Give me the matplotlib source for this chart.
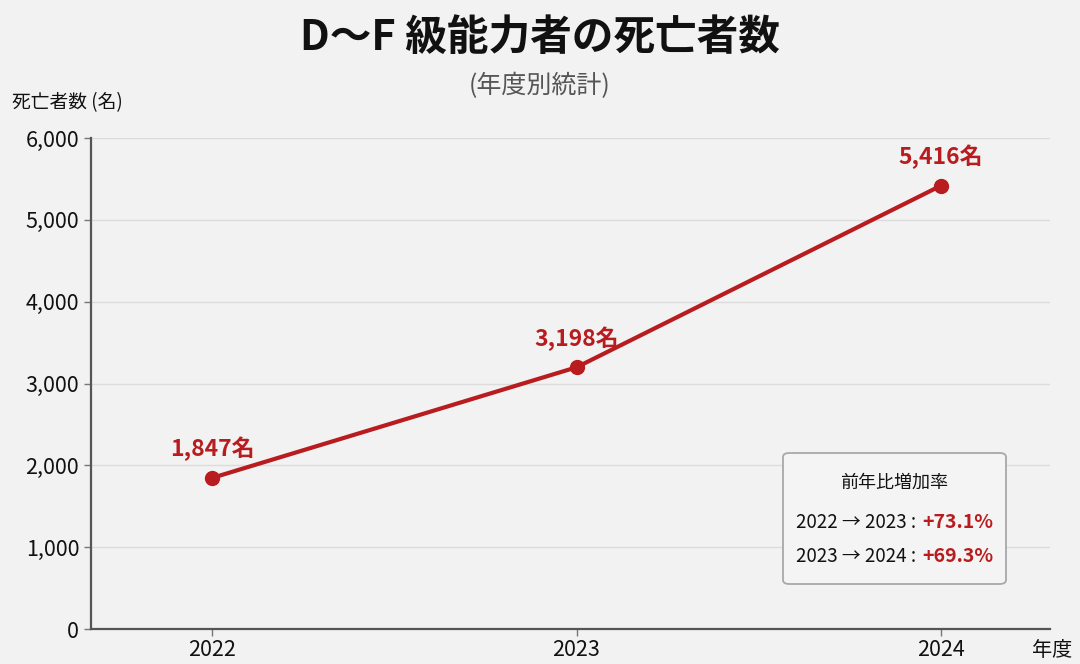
import matplotlib
matplotlib.use("Agg")
import matplotlib.pyplot as plt
from matplotlib.patches import FancyBboxPatch
from matplotlib.ticker import FuncFormatter

# data
years = [2022, 2023, 2024]
deaths = [1847, 3198, 5416]
point_labels = ["1,847名", "3,198名", "5,416名"]
growth_pairs = ["2022 → 2023 :", "2023 → 2024 :"]
growth_rates = ["+73.1%", "+69.3%"]

RED = "#b81c1f"
BG = "#f2f2f2"

plt.rcParams['font.family'] = ['Noto Sans CJK JP', 'DejaVu Sans']

fig = plt.figure(figsize=(10.8, 6.64), dpi=100)
fig.patch.set_facecolor(BG)
ax = fig.add_axes([91 / 1080, 35 / 664, (1050 - 91) / 1080, (629 - 138) / 664])
ax.set_facecolor(BG)

ax.plot(years, deaths, color=RED, lw=3, marker="o", ms=10, zorder=3)
for x, y, lab in zip(years, deaths, point_labels):
    ax.annotate(lab, (x, y), xytext=(0, 12), textcoords="offset points",
                ha="center", va="bottom", color=RED, fontsize=16.5, fontweight="bold")

ax.set_xlim(2021.667, 2024.30)
ax.set_ylim(0, 6000)
ax.set_xticks(years)
ax.set_yticks(range(0, 6001, 1000))
ax.yaxis.set_major_formatter(FuncFormatter(lambda v, p: f"{int(v):,}"))
ax.grid(axis="y", color="#dcdcdc", lw=1)
ax.set_axisbelow(True)
for s in ["top", "right"]:
    ax.spines[s].set_visible(False)
for s in ["left", "bottom"]:
    ax.spines[s].set_color("#555555")
    ax.spines[s].set_linewidth(1.6)
ax.tick_params(axis="both", labelsize=15.5, colors="#777777", labelcolor="#111111",
               length=5, width=1)
ax.tick_params(axis="x", pad=2)

# titles
fig.text(0.5, 1 - 38 / 664, "D〜F 級能力者の死亡者数", ha="center", va="center",
         fontsize=30, fontweight="bold", color="#111111")
fig.text(0.5, 1 - 86 / 664, "(年度別統計)", ha="center", va="center",
         fontsize=18, color="#555555")
fig.text(12 / 1080, 1 - 103 / 664, "死亡者数 (名)", ha="left", va="center",
         fontsize=13.5, color="#111111")
fig.text(1072 / 1080, 1 - 650 / 664, "年度", ha="right", va="center",
         fontsize=14.5, color="#111111")

# growth box
box = FancyBboxPatch((783 / 1080, 1 - 584 / 664), 223 / 1080, 131 / 664,
                     boxstyle="round,pad=0,rounding_size=0.006",
                     transform=fig.transFigure, facecolor="#f4f4f4",
                     edgecolor="#a8a8a8", lw=1.3, zorder=5)
fig.patches.append(box)
fig.text(894 / 1080, 1 - 483 / 664, "前年比増加率", ha="center", va="center",
         fontsize=13, color="#111111", zorder=6)
for i, (pair, rate) in enumerate(zip(growth_pairs, growth_rates)):
    yy = 1 - (522 + 35 * i) / 664
    fig.text(916 / 1080, yy, pair, ha="right", va="center",
             fontsize=13.5, color="#111111", zorder=6)
    fig.text(922 / 1080, yy, rate, ha="left", va="center",
             fontsize=14, fontweight="bold", color=RED, zorder=6)

fig.savefig("out.png", dpi=100, facecolor=BG)
